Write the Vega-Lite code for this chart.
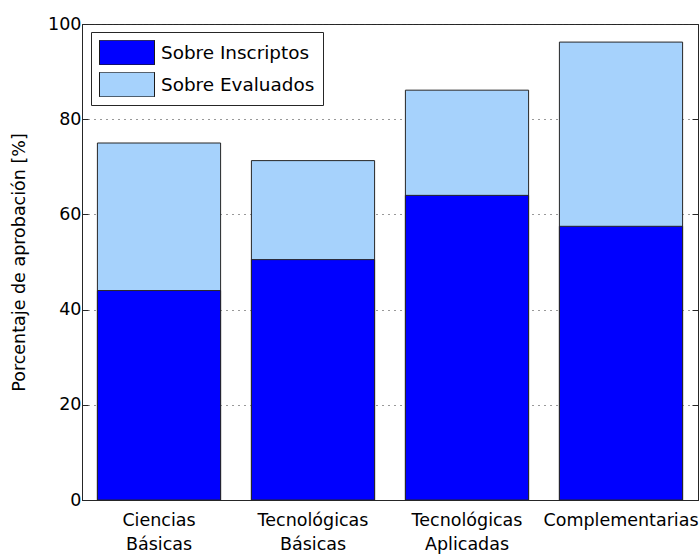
{
  "$schema": "https://vega.github.io/schema/vega-lite/v6.json",
  "width": 616,
  "height": 476,
  "autosize": {"type": "none"},
  "padding": {"left": 82, "top": 24, "right": 2, "bottom": 54},
  "background": "white",
  "config": {
    "font": "DejaVu Sans",
    "view": {"stroke": "#262626", "strokeWidth": 1}
  },
  "data": {
    "values": [
      {"cat": "Ciencias|Básicas", "serie": "Sobre Evaluados", "valor": 75},
      {"cat": "Tecnológicas|Básicas", "serie": "Sobre Evaluados", "valor": 71.3},
      {"cat": "Tecnológicas|Aplicadas", "serie": "Sobre Evaluados", "valor": 86.1},
      {"cat": "Complementarias", "serie": "Sobre Evaluados", "valor": 96.2},
      {"cat": "Ciencias|Básicas", "serie": "Sobre Inscriptos", "valor": 44},
      {"cat": "Tecnológicas|Básicas", "serie": "Sobre Inscriptos", "valor": 50.5},
      {"cat": "Tecnológicas|Aplicadas", "serie": "Sobre Inscriptos", "valor": 64},
      {"cat": "Complementarias", "serie": "Sobre Inscriptos", "valor": 57.5}
    ]
  },
  "encoding": {
    "x": {
      "field": "cat",
      "type": "nominal",
      "sort": null,
      "scale": {"paddingInner": 0.2, "paddingOuter": 0.1},
      "axis": {
        "title": null,
        "labelAngle": 0,
        "labelExpr": "split(datum.label, '|')",
        "labelFontSize": 17.5,
        "labelColor": "black",
        "labelPadding": 11,
        "labelLineHeight": 24,
        "labelBaseline": "top",
        "ticks": false,
        "domainColor": "#262626",
        "labelLimit": 300
      }
    },
    "y": {
      "field": "valor",
      "type": "quantitative",
      "stack": null,
      "scale": {"domain": [0, 100], "nice": false}
    },
    "color": {
      "field": "serie",
      "type": "nominal",
      "scale": {
        "domain": ["Sobre Inscriptos", "Sobre Evaluados"],
        "range": ["#0000FF", "#A6D2FC"]
      },
      "legend": {
        "orient": "none",
        "legendX": 9,
        "legendY": 8,
        "title": null,
        "strokeColor": "#262626",
        "fillColor": "white",
        "padding": 8,
        "symbolType": "M-1,-0.45H1V0.45H-1Z",
        "symbolSize": 3025,
        "clipHeight": 25,
        "symbolStrokeColor": "#1a1a1a",
        "symbolStrokeWidth": 1,
        "symbolOpacity": 1,
        "labelFontSize": 18.4,
        "labelColor": "black",
        "labelOffset": 6,
        "rowPadding": 7,
        "labelLimit": 300
      }
    }
  },
  "layer": [
    {
      "transform": [{"filter": "datum.serie == 'Sobre Evaluados'"}],
      "mark": {"type": "bar", "stroke": "#262626", "strokeWidth": 1, "opacity": 1},
      "encoding": {
        "y": {
          "field": "valor",
          "type": "quantitative",
          "stack": null,
          "scale": {"domain": [0, 100], "nice": false},
          "axis": {
            "orient": "left",
            "values": [0, 20, 40, 60, 80, 100],
            "tickSize": -6,
            "tickColor": "#262626",
            "domainColor": "#262626",
            "labelFontSize": 17.5,
            "labelColor": "black",
            "labelPadding": 7,
            "title": "Porcentaje de aprobación [%]",
            "titleFontSize": 17.5,
            "titleFontWeight": "normal",
            "titleColor": "black",
            "titlePadding": 19,
            "grid": true,
            "gridDash": [1, 5],
            "gridColor": "#333333",
            "gridOpacity": 1
          }
        }
      }
    },
    {
      "transform": [{"filter": "datum.serie == 'Sobre Inscriptos'"}],
      "mark": {"type": "bar", "stroke": "#262626", "strokeWidth": 1, "opacity": 1},
      "encoding": {
        "y": {
          "field": "valor",
          "type": "quantitative",
          "stack": null,
          "scale": {"domain": [0, 100], "nice": false},
          "axis": {
            "orient": "right",
            "values": [0, 20, 40, 60, 80, 100],
            "tickSize": -6,
            "tickColor": "#262626",
            "domainColor": "#262626",
            "labels": false,
            "title": null,
            "grid": false
          }
        }
      }
    }
  ],
  "resolve": {"axis": {"y": "independent"}}
}
